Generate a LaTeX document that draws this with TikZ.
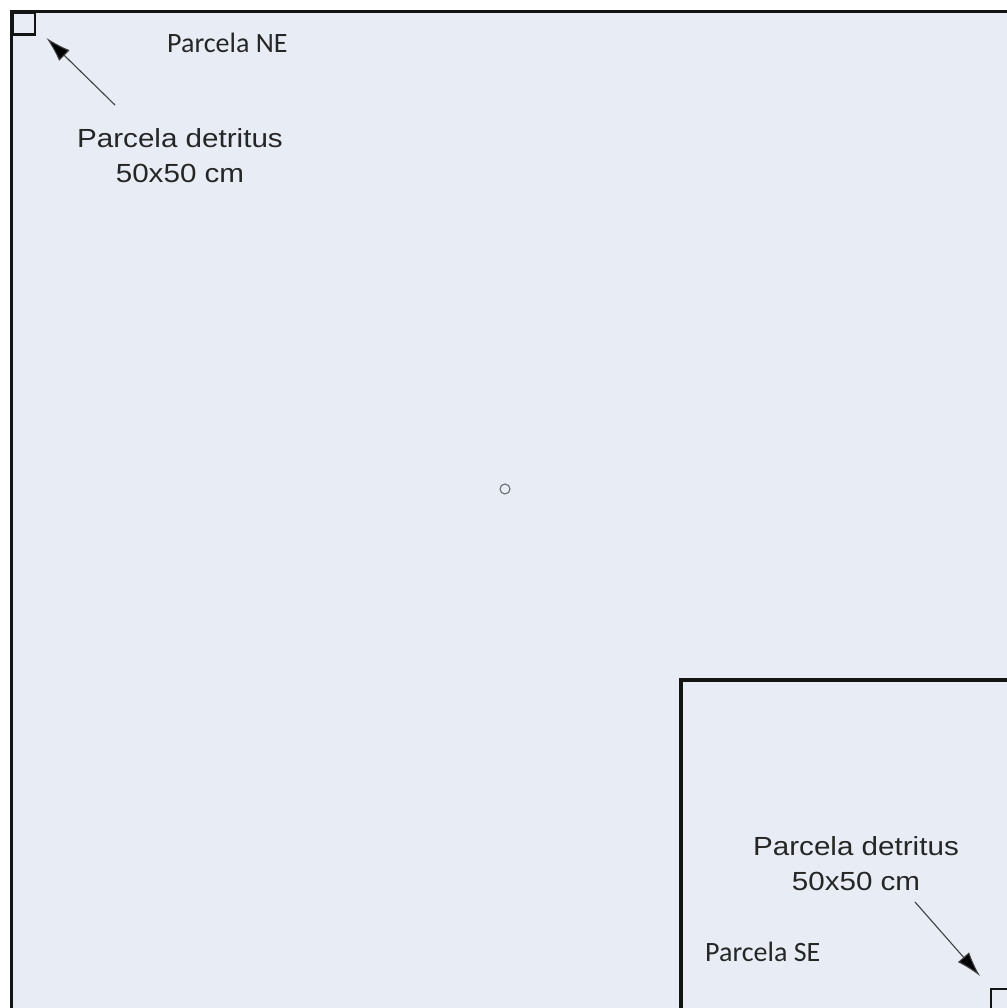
\documentclass[tikz,border=0pt]{standalone}
\usepackage{fontspec}
\usetikzlibrary{arrows.meta}
\setmainfont{Liberation Sans}
\newfontfamily\arialw[FakeStretch=1.13]{Liberation Sans}
\newfontfamily\calib{Carlito}
\definecolor{plotfill}{HTML}{E8EDF5}
\definecolor{txtgray}{HTML}{262626}
\definecolor{arrgray}{HTML}{404040}
\begin{document}
\begin{tikzpicture}[x=1pt,y=-1pt,
  bigtext/.style={font=\fontsize{26.2}{35}\arialw, text=txtgray, align=center, inner sep=0pt},
  smalltext/.style={font=\fontsize{28}{32}\calib, text=txtgray, inner sep=0pt, anchor=base west},
  pointer/.style={draw=arrgray, line width=1.1pt, -{Latex[length=25pt,width=15pt,fill=black]}},
  plotline/.style={draw=black!92, line width=3.2pt},
  quadline/.style={draw=black!92, line width=2.2pt}]
\useasboundingbox (0,0) rectangle (1006,1008);
\fill[white] (0,0) rectangle (1006,1008);
% main plot
\path[plotline, fill=plotfill] (11.5,11.5) rectangle (1030,1030);
% inner subplot
\path[plotline] (681,680) rectangle (1030,1030);
% detritus squares
\node[quadline, minimum size=22pt, inner sep=0pt, anchor=north west] (qne) at (11.5,11.5) {};
\node[quadline, minimum size=22pt, inner sep=0pt, anchor=north west] (qse) at (990,988) {};
% centre marker
\node[draw=gray!85!black, circle, minimum size=10pt, inner sep=0pt, line width=1.1pt] (centre) at (505,489) {};
% labels
\node[smalltext] (lne) at (167,52.7) {Parcela NE};
\node[smalltext] (lse) at (705,961.7) {Parcela SE};
\node[bigtext] (dne) at (180,155.5) {Parcela detritus\\50x50 cm};
\node[bigtext] (dse) at (856,864) {Parcela detritus\\50x50 cm};
% pointers
\coordinate (ane) at (115,105);
\coordinate (tne) at (46.5,38);
\coordinate (ase) at (915,902);
\coordinate (tse) at (980,976);
\draw[pointer] (ane) -- (tne);
\draw[pointer] (ase) -- (tse);
\end{tikzpicture}
\end{document}
